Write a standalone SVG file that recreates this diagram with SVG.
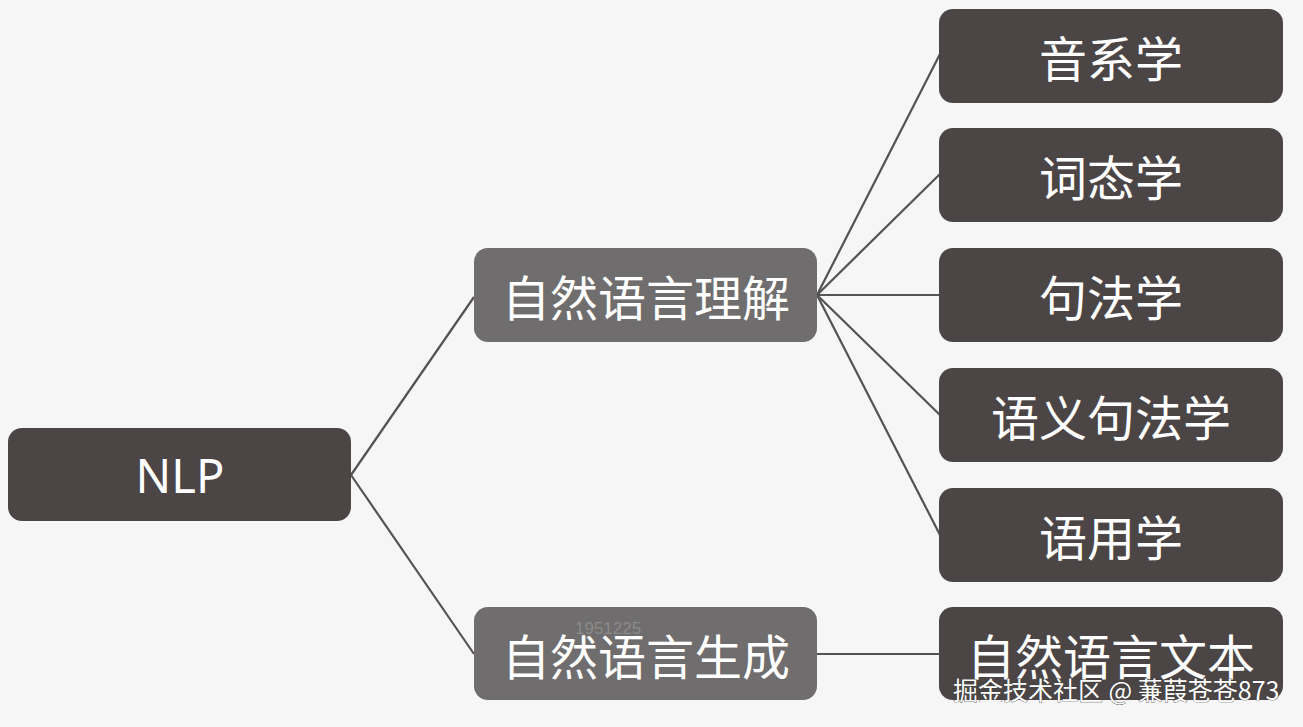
<svg xmlns="http://www.w3.org/2000/svg" width="1303" height="727" viewBox="0 0 1303 727">
<style>
.dark{fill:#4b4546}
.mid{fill:#6f6d6d}
.t{fill:#ffffff;font-family:"Noto Sans CJK SC","Noto Sans",sans-serif;font-size:48px;text-anchor:middle;dominant-baseline:central}
.c{stroke:#555252;stroke-width:2.2;fill:none}
.wm{fill:#ffffff;font-family:"Noto Sans CJK SC",sans-serif;font-size:25px;stroke:#333;stroke-width:0.7;paint-order:stroke}
</style>
<rect width="1303" height="727" fill="#f6f6f6"/>
<g id="connectors">
<line class="c" x1="351" y1="475" x2="474" y2="297"/>
<line class="c" x1="351" y1="475" x2="474" y2="654"/>
<line class="c" x1="817" y1="295" x2="940" y2="54"/>
<line class="c" x1="817" y1="295" x2="940" y2="174"/>
<line class="c" x1="817" y1="295" x2="940" y2="295"/>
<line class="c" x1="817" y1="295" x2="940" y2="415"/>
<line class="c" x1="817" y1="295" x2="940" y2="535"/>
<line class="c" x1="817" y1="654" x2="940" y2="654"/>
</g>
<g id="nlp"><rect class="dark" x="8" y="428" width="343" height="93" rx="14"/><text class="t" x="180" y="475" style="font-family:'Noto Sans',sans-serif;font-size:47px">NLP</text></g>
<g id="nlu"><rect class="mid" x="474" y="248" width="343" height="94" rx="14"/><text class="t" x="646" y="295">自然语言理解</text></g>
<g id="nlg"><rect class="mid" x="474" y="607" width="343" height="93" rx="14"/><text class="t" x="646" y="654">自然语言生成</text><text x="575" y="634" style="font-family:'Liberation Sans',sans-serif;font-size:17px;fill:#8a8a8a">1951225</text></g>
<g id="n1"><rect class="dark" x="939" y="9" width="344" height="94" rx="14"/><text class="t" x="1111" y="56">音系学</text></g>
<g id="n2"><rect class="dark" x="939" y="128" width="344" height="94" rx="14"/><text class="t" x="1111" y="175">词态学</text></g>
<g id="n3"><rect class="dark" x="939" y="248" width="344" height="94" rx="14"/><text class="t" x="1111" y="295">句法学</text></g>
<g id="n4"><rect class="dark" x="939" y="368" width="344" height="94" rx="14"/><text class="t" x="1111" y="415">语义句法学</text></g>
<g id="n5"><rect class="dark" x="939" y="488" width="344" height="94" rx="14"/><text class="t" x="1111" y="535">语用学</text></g>
<g id="n6"><rect class="dark" x="939" y="607" width="344" height="93" rx="14"/><text class="t" x="1111" y="654">自然语言文本</text></g>
<text class="wm" x="953" y="700">掘金技术社区 @ 蒹葭苍苍873</text>
</svg>
